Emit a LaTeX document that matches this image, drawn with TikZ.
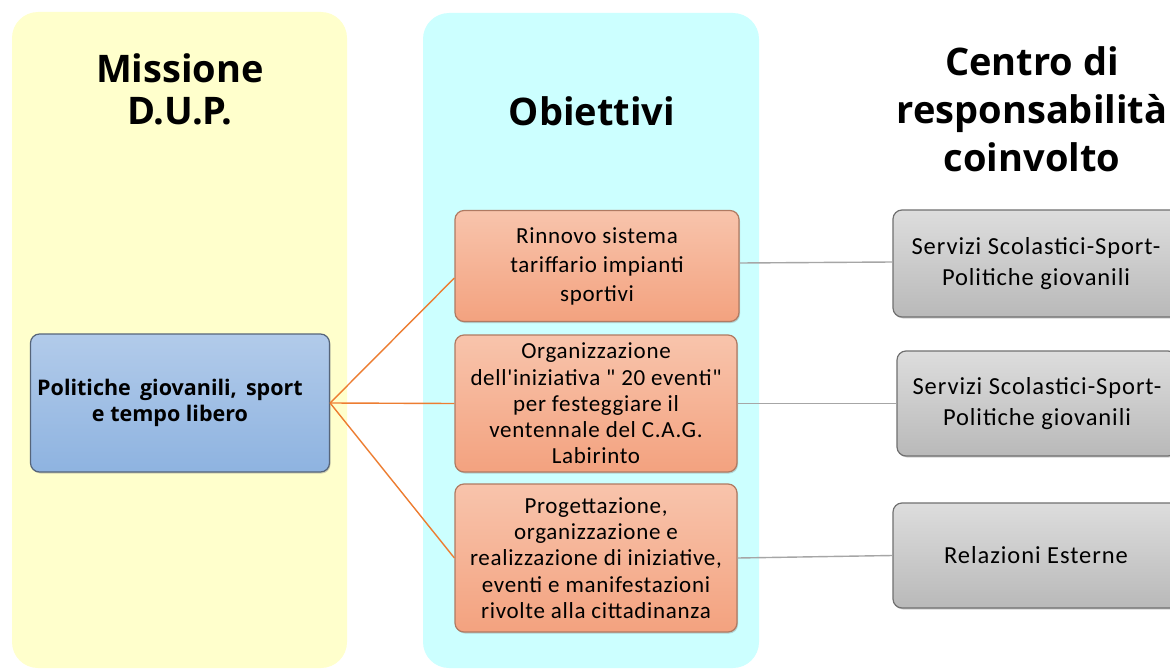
\documentclass[tikz,border=0pt]{standalone}
\usepackage{fontspec}
\setmainfont{Carlito}[Ligatures=TeXOff]
\newfontfamily\headfont{Open Sans}
\newfontfamily\objfont{Carlito}[LetterSpace=3,Ligatures=TeXOff]
\newfontfamily\crfont{Carlito}[LetterSpace=3.8,Ligatures=TeXOff]
\usetikzlibrary{shadows}
\definecolor{panelY}{HTML}{FFFFCC}
\definecolor{panelC}{HTML}{CCFFFF}
\definecolor{orTop}{HTML}{F8C4AC}
\definecolor{orBot}{HTML}{F3A27F}
\definecolor{orEdge}{HTML}{B07A62}
\definecolor{blTop}{HTML}{B2CBEA}
\definecolor{blBot}{HTML}{8EB3E0}
\definecolor{blEdge}{HTML}{56657A}
\definecolor{grTop}{HTML}{DDDDDD}
\definecolor{grBot}{HTML}{B9B9B9}
\definecolor{grEdge}{HTML}{707070}
\definecolor{linkO}{HTML}{ED7D31}
\definecolor{linkG}{HTML}{A6A6A6}
\tikzset{
  panel/.style={rounded corners=26pt, draw=none},
  heading/.style={font=\headfont\bfseries\fontsize{38}{42}\selectfont, align=center},
  boxbase/.style={rectangle, rounded corners=9pt, line width=1.2pt, align=center, inner sep=2pt,
     drop shadow={opacity=0.35, shadow xshift=1pt, shadow yshift=-1.5pt}},
  objbox/.style={boxbase, top color=orTop, bottom color=orBot, draw=orEdge,
     font=\objfont\fontsize{23}{26.3}\selectfont},
  misbox/.style={boxbase, top color=blTop, bottom color=blBot, draw=blEdge,
     font=\headfont\bfseries\fontsize{21.5}{26}\selectfont},
  crbox/.style={boxbase, top color=grTop, bottom color=grBot, draw=grEdge,
     font=\crfont\fontsize{24.5}{31}\selectfont},
  linko/.style={draw=linkO, line width=1.4pt},
  linkg/.style={draw=linkG, line width=1.4pt}
}
\begin{document}
\begin{tikzpicture}[x=1pt,y=-1pt]
\useasboundingbox (0,0) rectangle (1170,669);
\clip (0,0) rectangle (1170,669);
\fill[white] (0,0) rectangle (1170,669);
% panels
\fill[panelY, panel] (12,12) rectangle (347,668);
\fill[panelC, panel] (423,13) rectangle (759,668);
% headings
\node[heading] (h1) at (180,89) {Missione\\D.U.P.};
\node[heading] (h2) at (592,111) {Obiettivi};
\node[heading, font=\headfont\bfseries\fontsize{38}{48}\selectfont] (h3) at (1032,109) {Centro di\\responsabilità\\coinvolto};
% mission box
\node[misbox, minimum width=299pt, minimum height=138pt] (m) at (180,403)
  {Politiche\, giovanili,\, sport\hspace*{20pt}\\e tempo libero\hspace*{20pt}};
% objective boxes
\node[objbox, minimum width=284pt, minimum height=111pt, font=\objfont\fontsize{23}{29}\selectfont] (o1) at (597,266)
  {Rinnovo sistema\\tariffario impianti\\sportivi};
\node[objbox, minimum width=282pt, minimum height=137pt] (o2) at (596,403.5)
  {Organizzazione\\dell'iniziativa " 20 eventi"\\per festeggiare il\\ventennale del C.A.G.\\Labirinto};
\node[objbox, minimum width=282pt, minimum height=148pt] (o3) at (596,558)
  {Progettazione,\\organizzazione e\\realizzazione di iniziative,\\eventi e manifestazioni\\rivolte alla cittadinanza};
% responsibility boxes
\node[crbox, minimum width=286pt, minimum height=107pt] (c1) at (1036,263.5)
  {Servizi Scolastici-Sport-\\Politiche giovanili};
\node[crbox, minimum width=280pt, minimum height=105pt] (c2) at (1037,403.5)
  {Servizi Scolastici-Sport-\\Politiche giovanili};
\node[crbox, minimum width=286pt, minimum height=105pt] (c3) at (1036,555.5)
  {Relazioni Esterne};
% connectors
\draw[linko] (m.east) -- ([yshift=-12pt]o1.west);
\draw[linko] (m.east) -- (o2.west);
\draw[linko] (m.east) -- (o3.west);
\draw[linkg] ([yshift=3pt]o1.east) -- ([yshift=1.5pt]c1.west);
\draw[linkg] (o2.east) -- (c2.west);
\draw[linkg] (o3.east) -- (c3.west);
\end{tikzpicture}
\end{document}
